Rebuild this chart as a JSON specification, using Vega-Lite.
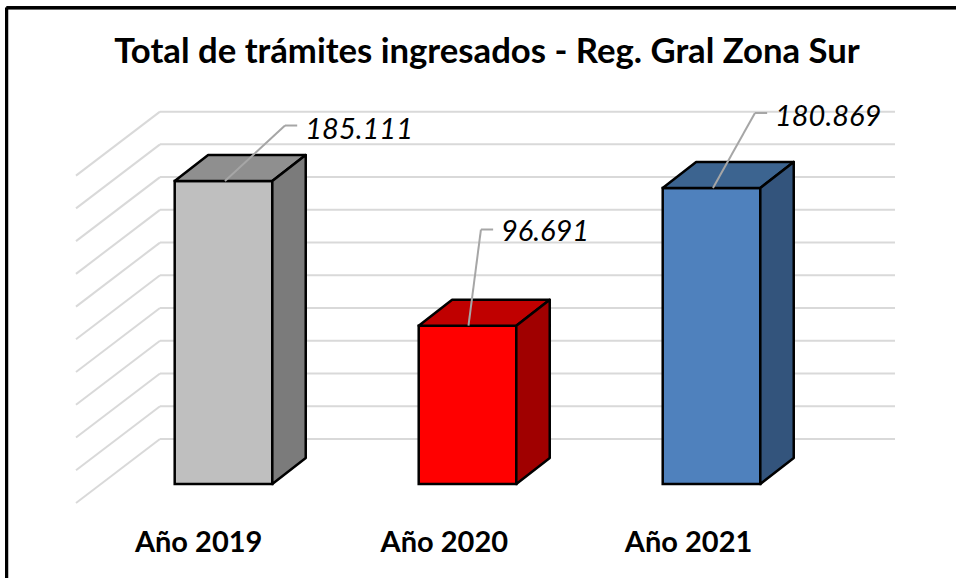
{
"$schema":"https://vega.github.io/schema/vega-lite/v6.json",
"width":956,"height":578,
"autosize":{"type":"fit","contains":"padding"},
"padding":0,
"background":"white",
"config":{"view":{"stroke":null}},
"title":{"text":"Total de trámites ingresados - Reg. Gral Zona Sur","anchor":"middle","frame":"group","orient":"top","offset":-71,"dx":9,"font":"Lato","fontSize":34.7,"fontWeight":"bold","color":"#000000"},
"datasets":{
"bars":[
{"year":"Año 2019","i":0,"value":185111},
{"year":"Año 2020","i":1,"value":96691},
{"year":"Año 2021","i":2,"value":180869}],
"ticks":[{"t":0},{"t":20000},{"t":40000},{"t":60000},{"t":80000},{"t":100000},{"t":120000},{"t":140000},{"t":160000},{"t":180000},{"t":200000}]
},
"data":{"name":"bars"},
"resolve":{"scale":{"color":"independent"}},
"layer":[
{"data":{"name":"ticks"},"transform":[{"calculate":"datum.t+27491","as":"back"},{"calculate":"datum.t-11609","as":"front"}],
 "mark":{"type":"rule","color":"#d9d9d9","strokeWidth":2},
 "encoding":{"x":{"datum":-0.6045,"type":"quantitative","scale":{"domain":[-0.916,3.002],"nice":false,"zero":false},"axis":null},"x2":{"datum":-0.2603},
  "y":{"field":"front","type":"quantitative","scale":{"domain":[-57427,295690],"nice":false,"zero":false},"axis":null},"y2":{"field":"back"}}},
{"data":{"name":"ticks"},"transform":[{"calculate":"datum.t+27491","as":"back"}],
 "mark":{"type":"rule","color":"#d9d9d9","strokeWidth":2},
 "encoding":{"x":{"datum":-0.2603,"type":"quantitative"},"x2":{"datum":2.752},"y":{"field":"back","type":"quantitative"}}},
{"transform":[{"calculate":"datum.i+0.2","as":"xa"},{"calculate":"datum.i-0.2","as":"x0"}],
 "mark":{"type":"rect","stroke":"#000000","strokeWidth":2.5},
 "encoding":{"x":{"field":"x0","type":"quantitative"},"x2":{"field":"xa"},"y":{"field":"value","type":"quantitative"},"y2":{"datum":0},
  "color":{"field":"year","type":"nominal","scale":{"domain":["Año 2019","Año 2020","Año 2021"],"range":["#bfbfbf","#ff0000","#4f81bd"]},"legend":null}}},
{"transform":[{"calculate":"[0,1,2,3]","as":"p"},{"flatten":["p"]},
  {"calculate":"datum.i-0.2+[0,0.137,0.4,0.537][datum.p]","as":"px"},
  {"calculate":"datum.value+[0,15886,15886,15886][datum.p]","as":"hi"},
  {"calculate":"datum.value+[0,0,0,15886][datum.p]","as":"lo"}],
 "mark":{"type":"area","stroke":"#000000","strokeWidth":2.5,"strokeJoin":"round","opacity":1},
 "encoding":{"x":{"field":"px","type":"quantitative"},"y":{"field":"hi","type":"quantitative","stack":null},"y2":{"field":"lo"},"detail":{"field":"year"},
  "color":{"field":"year","type":"nominal","scale":{"domain":["Año 2019","Año 2020","Año 2021"],"range":["#8f8f8f","#c00000","#3c6490"]},"legend":null}}},
{"transform":[{"calculate":"[0,1]","as":"p"},{"flatten":["p"]},
  {"calculate":"datum.i+0.2+datum.p*0.137","as":"px"},
  {"calculate":"datum.value+datum.p*15886","as":"hi"},
  {"calculate":"datum.p*15886","as":"lo"}],
 "mark":{"type":"area","stroke":"#000000","strokeWidth":2.5,"strokeJoin":"round","opacity":1},
 "encoding":{"x":{"field":"px","type":"quantitative"},"y":{"field":"hi","type":"quantitative","stack":null},"y2":{"field":"lo"},"detail":{"field":"year"},
  "color":{"field":"year","type":"nominal","scale":{"domain":["Año 2019","Año 2020","Año 2021"],"range":["#7b7b7b","#a00000","#33547c"]},"legend":null}}},
{"transform":[{"calculate":"[0.006,1.004,2.006][datum.i]","as":"a"},{"calculate":"[0.252,1.055,2.178][datum.i]","as":"b"},{"calculate":"[219011,155478,226650][datum.i]","as":"ly"}],
 "mark":{"type":"rule","color":"#a6a6a6","strokeWidth":2},
 "encoding":{"x":{"field":"a","type":"quantitative"},"x2":{"field":"b"},"y":{"field":"value","type":"quantitative"},"y2":{"field":"ly"}}},
{"transform":[{"calculate":"[0.252,1.055,2.178][datum.i]","as":"b"},{"calculate":"datum.b+0.05","as":"c"},{"calculate":"[219011,155478,226650][datum.i]","as":"ly"}],
 "mark":{"type":"rule","color":"#a6a6a6","strokeWidth":2},
 "encoding":{"x":{"field":"b","type":"quantitative"},"x2":{"field":"c"},"y":{"field":"ly","type":"quantitative"}}},
{"transform":[{"calculate":"[0.335,1.137,2.26][datum.i]","as":"tx"},{"calculate":"[216265,153950,224210][datum.i]","as":"ty"},{"calculate":"replace(format(datum.value,','),',','.')","as":"lab"}],
 "mark":{"type":"text","align":"left","baseline":"middle","font":"Lato","fontSize":29,"fontStyle":"italic","color":"#000000"},
 "encoding":{"x":{"field":"tx","type":"quantitative"},"y":{"field":"ty","type":"quantitative"},"text":{"field":"lab"}}},
{"transform":[{"calculate":"[-0.102,0.905,1.906][datum.i]","as":"tx"}],
 "mark":{"type":"text","align":"center","baseline":"middle","font":"Lato","fontSize":29,"fontWeight":"bold","color":"#000000"},
 "encoding":{"x":{"field":"tx","type":"quantitative"},"y":{"datum":-36044,"type":"quantitative"},"text":{"field":"year"}}},
{"mark":{"type":"rule","color":"#000000","strokeWidth":3,"clip":true},
 "encoding":{"x":{"datum":-0.889,"type":"quantitative"},"y":{"datum":291000,"type":"quantitative"},"y2":{"datum":-57427}}},
{"mark":{"type":"rule","color":"#000000","strokeWidth":3,"clip":true},
 "encoding":{"x":{"datum":-0.889,"type":"quantitative"},"x2":{"datum":3.002},"y":{"datum":291000,"type":"quantitative"}}}
]
}
